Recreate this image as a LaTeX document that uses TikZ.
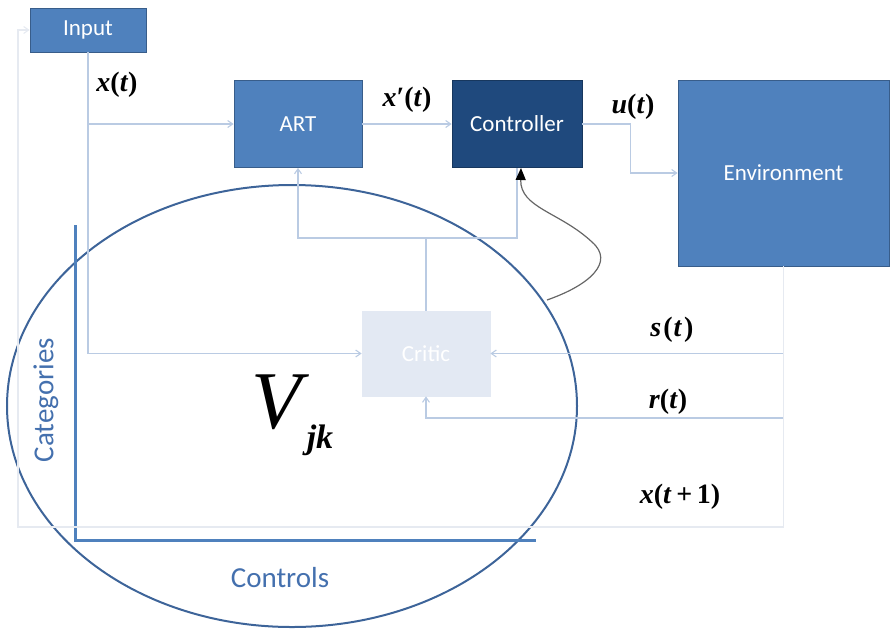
\documentclass[tikz,border=0pt]{standalone}
\usepackage{fontspec}
\setmainfont{Liberation Serif}
\newfontfamily\boxfont{Carlito}
\usetikzlibrary{arrows.meta}
\definecolor{boxblue}{HTML}{4F81BD}
\definecolor{boxedge}{HTML}{385D8A}
\definecolor{ctrlblue}{HTML}{1F497D}
\definecolor{ctrledge}{HTML}{17375E}
\definecolor{criticfill}{HTML}{E3E9F3}
\definecolor{wire}{HTML}{BACBE3}
\definecolor{faintwire}{HTML}{E6EAF1}
\definecolor{ringblue}{HTML}{3D6499}
\definecolor{axisblue}{HTML}{4F81BD}
\definecolor{axistext}{HTML}{4470AE}
\tikzset{
  blockbox/.style={draw=boxedge, line width=0.8pt, fill=boxblue, text=white,
    font=\boxfont\fontsize{23}{25}\selectfont, inner sep=0pt},
  wireline/.style={draw=wire, line width=1.1pt, -{Straight Barb[length=5pt,width=7pt]}},
  mathlabel/.style={font=\fontsize{28}{30}\selectfont\bfseries, inner sep=0pt},
  axislabel/.style={text=axistext, font=\boxfont\fontsize{29}{31}\selectfont},
}
\begin{document}
\begin{tikzpicture}[x=1pt, y=-1pt]
\useasboundingbox (0,0) rectangle (891,630);

% value-table ellipse and axes
\draw[ringblue, line width=2pt] (292,406) ellipse [x radius=285pt, y radius=221pt];
\draw[axisblue, line width=3pt] (75,225) -- (75,540) -- (536,540);
\node[axislabel, rotate=90] (cat) at (46,400) {Categories};
\node[axislabel] (ctl) at (280,578) {Controls};
\node[font=\fontsize{82}{84}\selectfont\itshape, inner sep=0pt] (V) at (277,402) {V};
\node[font=\fontsize{34}{36}\selectfont\bfseries\itshape, inner sep=0pt] (jk) at (320,440) {jk};

% blocks
\node[blockbox, minimum width=116pt, minimum height=44pt] (input) at (88,30) {Input};
\node[blockbox, minimum width=128pt, minimum height=87pt] (art) at (298,124) {ART};
\node[blockbox, fill=ctrlblue, draw=ctrledge, minimum width=130pt, minimum height=87pt] (ctrl) at (517,124) {Controller};
\node[blockbox, minimum width=211pt, minimum height=186pt] (env) at (783.5,173) {Environment};
\node[blockbox, fill=criticfill, draw=criticfill, minimum width=128pt, minimum height=85pt] (critic) at (426,353.5) {Critic};

% signal wires
\coordinate (split) at (426,238);
\coordinate (rturn) at (426,418);
\coordinate (lowleft) at (18,527);
\draw[wireline] (input.south) |- (art.west);
\draw[wireline] (input.south) |- (critic.west);
\draw[wireline] (art.east) -- (ctrl.west);
\draw[wireline] (ctrl.east) -- ++(48,0) |- (env.west);
\draw[wireline] (env.south) |- (critic.east);
\draw[wireline] (env.south) |- (rturn) -- (critic.south);
\draw[wireline, draw=faintwire] (env.south) |- (lowleft) |- (input.west);
\draw[wireline] (critic.north) -- (split) -| (art.south);
\draw[draw=wire, line width=1.1pt] (split) -| (ctrl.south);

% value feedback into the controller
\coordinate (vstart) at (547,300);
\coordinate (vtip) at (521,168);
\draw[draw=black!60, line width=1.2pt, -{Triangle[length=12pt,width=10pt,color=black]}]
  (vstart) .. controls (590,285) and (615,262) .. (592,242)
  .. controls (560,212) and (520,208) .. (vtip);

% signal labels
\node[mathlabel] (lx) at (117,85) {\textit{x}(\textit{t})};
\node[mathlabel] (lxp) at (407,100) {\textit{x}′(\textit{t})};
\node[mathlabel] (lu) at (633,107) {\textit{u}(\textit{t})};
\node[mathlabel] (ls) at (672,330) {\textit{s}\kern2pt(\kern1pt\textit{t}\kern2pt)};
\node[mathlabel] (lr) at (668,402) {\textit{r}(\textit{t})};
\node[mathlabel] (lxn) at (680,497) {\textit{x}(\textit{t}\,+\,1)};
\end{tikzpicture}
\end{document}
